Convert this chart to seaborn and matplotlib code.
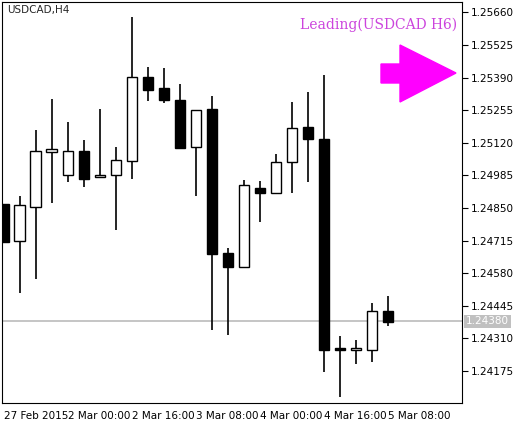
import matplotlib
matplotlib.use("Agg")
import matplotlib.pyplot as plt
import seaborn as sns
import numpy as np
from matplotlib.patches import Polygon

opens  = [1.24866,1.24713,1.24854,1.25082,1.24986,1.25086,1.24978,1.24986,1.25044,1.25392,1.25347,1.25296,1.25102,1.25260,1.24663,1.24605,1.24932,1.24912,1.25040,1.25185,1.25135,1.24270,1.24262,1.24262,1.24423]
closes = [1.24709,1.24862,1.25086,1.25094,1.25086,1.24970,1.24986,1.25048,1.25392,1.25338,1.25296,1.25098,1.25255,1.24659,1.24605,1.24945,1.24912,1.25040,1.25181,1.25135,1.24262,1.24262,1.24270,1.24423,1.24378]
highs  = [1.24866,1.24899,1.25173,1.25301,1.25206,1.25131,1.25260,1.25102,1.25641,1.25433,1.25429,1.25363,1.25255,1.25313,1.24684,1.24966,1.24961,1.25073,1.25288,1.25330,1.25400,1.24320,1.24302,1.24456,1.24485]
lows   = [1.24709,1.24498,1.24556,1.24870,1.24957,1.24937,1.24978,1.24759,1.24970,1.25292,1.25284,1.25098,1.24899,1.24344,1.24324,1.24605,1.24792,1.24912,1.24912,1.24957,1.24170,1.24067,1.24203,1.24211,1.24361]
price_ticks = [1.25660,1.25525,1.25390,1.25255,1.25120,1.24985,1.24850,1.24715,1.24580,1.24445,1.24310,1.24175]
time_pos = [0,4,8,12,16,20,24]
time_labels = ["27 Feb 2015","2 Mar 00:00","2 Mar 16:00","3 Mar 08:00","4 Mar 00:00","4 Mar 16:00","5 Mar 08:00"]
last_price = 1.24380

sns.set_style("white")
fig = plt.figure(figsize=(5.15,4.23), dpi=100)
ax = fig.add_axes([2/515, 20/423, 460/515, 401/423])
n = len(opens)
x = np.arange(n)
ax.vlines(x, lows, highs, color="black", lw=1.2, zorder=2)
for i in range(n):
    o, c = opens[i], closes[i]
    bottom = min(o, c); h = max(abs(c-o), 0.00004)
    up = c >= o
    ax.bar(x[i], h, bottom=bottom, width=0.68, color="white" if up else "black",
           edgecolor="black", linewidth=1.0, zorder=3)
ax.axhline(last_price, color="#c0c0c0", lw=1.3, zorder=1)
ax.set_xlim(-0.12, 28.62)
ax.set_ylim(1.24042, 1.25703)
ax.yaxis.tick_right()
ax.set_yticks(price_ticks)
ax.set_yticklabels([f"{t:.5f}" for t in price_ticks], fontsize=7.5)
ax.set_xticks(time_pos)
ax.set_xticklabels(time_labels, fontsize=7.5, ha="left")
for lab in ax.get_xticklabels():
    lab.set_x(lab.get_position()[0])
import matplotlib.transforms as mt
off = mt.ScaledTranslation(-2/100, 0, fig.dpi_scale_trans)
for lab in ax.get_xticklabels():
    lab.set_transform(lab.get_transform() + off)
ax.tick_params(axis="both", direction="out", length=4, width=0.8, pad=2, colors="black")
for s in ax.spines.values():
    s.set_color("black"); s.set_linewidth(0.8)
ax.text(0.012, 0.993, "USDCAD,H4", transform=ax.transAxes, fontsize=7.5, va="top", ha="left")
ax.text(0.99, 0.96, "Leading(USDCAD H6)", transform=ax.transAxes, fontsize=10,
        color="#cc44dd", family="DejaVu Serif", va="top", ha="right")
# arrow in pixel-ish axes fraction
def fx(px): return (px-2)/460
def fy(py): return (403-py)/401
pts = [(381,64),(400,64),(400,45),(456,73),(400,102),(400,83),(381,83)]
ax.add_patch(Polygon([(fx(a),fy(b)) for a,b in pts], closed=True, color="#ff00ff",
                     transform=ax.transAxes, zorder=5, clip_on=False))
ax.text(1.0+4/460, last_price, f"{last_price:.5f}", transform=ax.get_yaxis_transform(),
        fontsize=7.5, color="white", va="center", ha="left",
        bbox=dict(boxstyle="square,pad=0.15", fc="#c0c0c0", ec="none"))
fig.savefig("out.png", dpi=100)
